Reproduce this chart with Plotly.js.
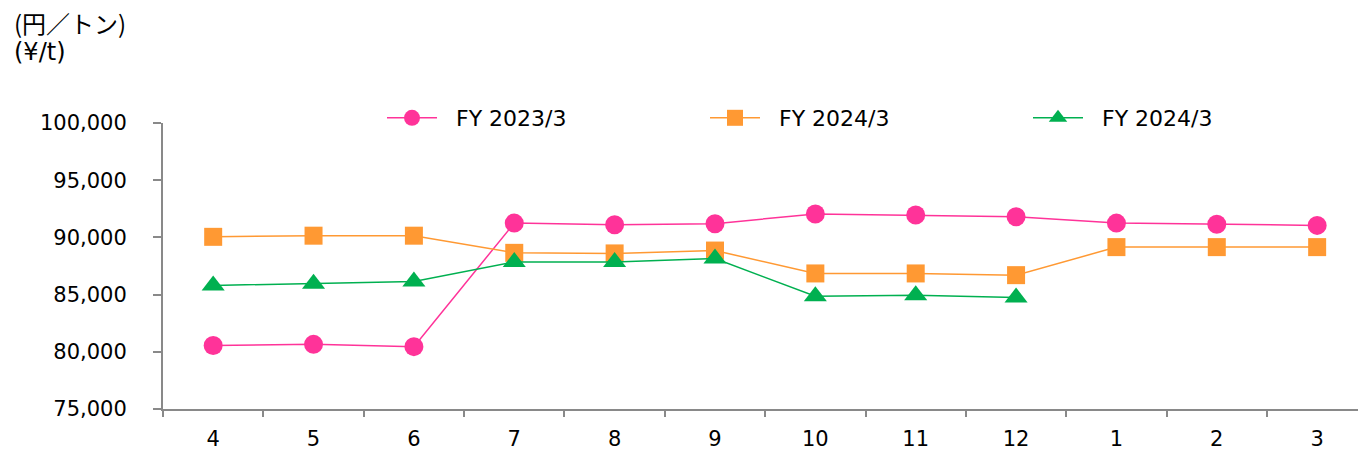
<!DOCTYPE html>
<html><head><meta charset="utf-8">
<script src="https://cdn.plot.ly/plotly-3.0.1.min.js"></script>
<style>body{margin:0;background:#fff}#chart{width:1358px;height:453px}</style>
</head><body><div id="chart"></div>
<script>
const months = ["4","5","6","7","8","9","10","11","12","1","2","3"];
const fy2023 = [80550, 80650, 80450, 91250, 91100, 91200, 92050, 91950, 91800, 91250, 91150, 91050];
const fy2024a = [90050, 90150, 90150, 88650, 88600, 88850, 86850, 86850, 86700, 89150, 89150, 89150];
const fy2024b = [85800, 85950, 86150, 87850, 87850, 88150, 84850, 84950, 84750];
const seriesNames = ["FY 2023/3", "FY 2024/3", "FY 2024/3"];

const FONT = '"DejaVu Sans", Verdana, sans-serif';
const pad = '\u00a0\u00a0';
const traces = [
  {x: months, y: fy2023, name: pad + seriesNames[0], type: 'scatter', mode: 'lines+markers', legend: 'legend',
   line: {color: '#FF3399', width: 1.5}, marker: {symbol: 'circle', size: 19, color: '#FF3399'}},
  {x: months.slice(0, fy2024a.length), y: fy2024a, name: pad + seriesNames[1], type: 'scatter', mode: 'lines+markers', legend: 'legend2',
   line: {color: '#FF9933', width: 1.5}, marker: {symbol: 'square', size: 18, color: '#FF9933'}},
  {x: months.slice(0, fy2024b.length), y: fy2024b, name: pad + seriesNames[2], type: 'scatter', mode: 'lines+markers', legend: 'legend3',
   line: {color: '#00B050', width: 1.5}, marker: {symbol: 'triangle-up', size: 20, color: '#00B050'}}
];

const W = 1195, H = 286, L = 163, T = 123;
function legendAt(px) {
  return {orientation: 'h', x: (px - L) / W, xanchor: 'left', y: 1 + (T - 118) / H, yanchor: 'middle',
          itemsizing: 'trace', itemwidth: 50, font: {family: FONT, size: 22}, bgcolor: 'rgba(0,0,0,0)'};
}

const layout = {
  width: 1358, height: 453,
  margin: {l: L, r: 0, t: T, b: 44},
  paper_bgcolor: '#fff', plot_bgcolor: '#fff',
  font: {family: FONT, size: 21, color: '#000'},
  showlegend: true,
  legend: legendAt(382),
  legend2: legendAt(705),
  legend3: legendAt(1028),
  xaxis: {type: 'category', range: [-0.5, 11.407], showgrid: false, zeroline: false,
          showline: true, linecolor: '#898989', linewidth: 2,
          ticks: 'outside', tickson: 'boundaries', ticklen: 6, tickcolor: '#898989', tickwidth: 2,
          ticklabelstandoff: 10, tickfont: {family: FONT, size: 21}, fixedrange: true},
  yaxis: {range: [75000, 100000], dtick: 5000, tick0: 75000, tickformat: ',d', showgrid: false, zeroline: false,
          showline: true, linecolor: '#898989', linewidth: 2,
          ticks: 'outside', ticklen: 8, tickcolor: '#898989', tickwidth: 2,
          ticklabelstandoff: 22, tickfont: {family: FONT, size: 21}},
  annotations: [
    {text: '(円／トン)', xref: 'paper', yref: 'paper', x: (12 - L) / W, y: 1 + (T - 22) / H,
     xanchor: 'left', yanchor: 'middle', align: 'left', showarrow: false,
     font: {family: '"Noto Sans CJK JP", sans-serif', size: 24, color: '#000'}},
    {text: '(¥/t)', xref: 'paper', yref: 'paper', x: (12 - L) / W, y: 1 + (T - 52) / H,
     xanchor: 'left', yanchor: 'middle', align: 'left', showarrow: false,
     font: {family: FONT, size: 24, color: '#000'}}
  ]
};
Plotly.newPlot('chart', traces, layout, {displayModeBar: false, staticPlot: true});
</script></body></html>
